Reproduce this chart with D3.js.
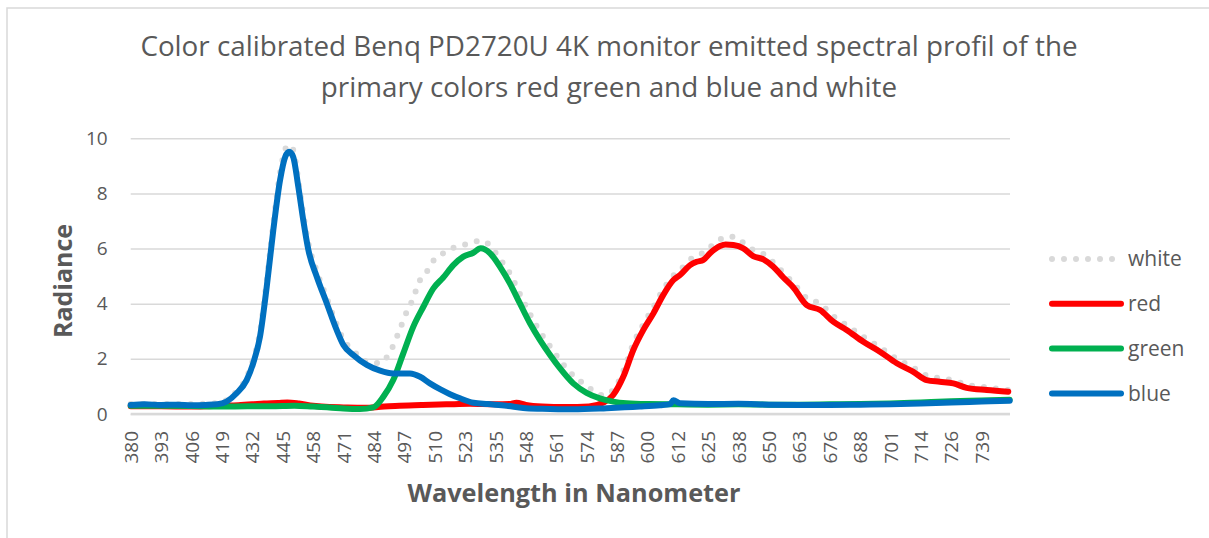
<!DOCTYPE html>
<html>
<head>
<meta charset="utf-8">
<script src="https://cdn.jsdelivr.net/npm/d3@7"></script>
<style>
  html, body { margin: 0; padding: 0; background: #fff; }
  svg { display: block; font-family: "Open Sans", Lato, sans-serif; }
</style>
</head>
<body>
<div id="chart"></div>
<script>
// Category labels shown on the wavelength axis (nm)
const tickNm = [380, 393, 406, 419, 432, 445, 458, 471, 484, 497, 510, 523, 535, 548,
  561, 574, 587, 600, 612, 625, 638, 650, 663, 676, 688, 701, 714, 726, 739];

const radianceTicks = [0, 2, 4, 6, 8, 10];

// Spectra, [wavelength nm, radiance]
const white = [[380,0.36],[400,0.36],[419,0.4],[421,0.5],[425.3,0.82],[429.6,1.33],[432.4,1.98],
  [435.3,2.98],[438.2,4.85],[441,6.9],[443.9,8.75],[446.1,9.6],[447.8,9.76],[449.5,9.58],[451.7,8.48],
  [453.8,7.27],[456,6.2],[459.6,5.18],[463.9,4.2],[468.1,3.25],[471,2.7],[475.2,2.3],[481,1.9],
  [486.4,1.85],[490.2,2.14],[494.5,2.93],[498.1,3.71],[500.2,4.07],[503.8,4.86],[507.6,5.28],
  [509.4,5.55],[513.7,5.83],[518,6.03],[522.3,6.13],[525.6,6.21],[529.6,6.29],[533.5,6.05],
  [536.2,5.71],[541.2,5.1],[545.5,4.35],[549.8,3.62],[554.1,2.98],[558.4,2.45],[562.6,1.95],
  [568.3,1.4],[574,1.02],[578,0.78],[581.1,0.68],[585.4,0.87],[589.7,1.55],[594,2.55],[598.3,3.25],
  [602.4,3.88],[606.3,4.52],[610.3,5.02],[613,5.22],[617.3,5.6],[620.1,5.75],[623,5.85],[625.8,6.05],
  [630.1,6.33],[633,6.43],[636,6.43],[639.9,6.21],[643.8,5.95],[647.8,5.8],[651.9,5.5],[656.2,5.12],
  [660.4,4.75],[666.2,4.2],[671.9,4.0],[677.4,3.55],[682.7,3.22],[689.4,2.8],[696.5,2.42],[703.7,2.0],
  [710.8,1.68],[716.3,1.4],[721.5,1.3],[726.9,1.22],[732.6,1.06],[741.2,0.97],[750.4,0.87]];

const red = [[380,0.28],[393,0.28],[406,0.27],[419,0.3],[426,0.32],[432,0.35],[437,0.38],[443,0.4],
  [447,0.42],[452,0.38],[458,0.3],[465,0.25],[471,0.24],[480,0.23],[487,0.26],[495,0.3],[505,0.33],
  [515,0.35],[525,0.37],[535,0.35],[541,0.36],[544,0.41],[548,0.33],[555,0.27],[565,0.25],[575,0.27],
  [581.1,0.41],[585.4,0.69],[589.7,1.35],[594,2.32],[598.3,3.05],[602.4,3.65],[606.3,4.32],
  [610.3,4.86],[613,5.04],[617.3,5.4],[620.1,5.52],[623,5.59],[625.8,5.83],[630.1,6.09],[632.5,6.15],
  [635.8,6.13],[639.9,6.01],[643.8,5.73],[647.8,5.61],[651.9,5.34],[656.2,4.95],[660.4,4.6],
  [666.2,3.95],[671.9,3.77],[677.4,3.35],[682.7,3.05],[689.4,2.62],[696.5,2.26],[703.7,1.84],
  [710.8,1.53],[716.3,1.23],[721.5,1.17],[726.9,1.11],[732.6,0.95],[741.2,0.87],[750.4,0.81]];

const green = [[380,0.3],[393,0.3],[406,0.29],[419,0.27],[430,0.28],[440,0.28],[450,0.3],[458,0.27],
  [465,0.24],[471,0.2],[478,0.18],[483.8,0.24],[488.1,0.63],[492.3,1.23],[496.6,2.2],[500.9,3.17],
  [505.2,3.89],[509.4,4.55],[513.7,4.95],[518,5.4],[522.3,5.71],[526.3,5.85],[529.2,6.01],[532.9,5.83],
  [537,5.34],[541.2,4.74],[545.5,4.01],[549.8,3.29],[554.1,2.68],[558.4,2.14],[562.6,1.66],
  [568.3,1.11],[574,0.77],[579.7,0.57],[585.4,0.45],[591.1,0.39],[600,0.36],[612,0.35],[625,0.34],
  [638,0.35],[650,0.34],[663,0.34],[676,0.35],[688,0.36],[701,0.38],[714,0.42],[726,0.46],
  [739,0.49],[751,0.52]];

const blue = [[380,0.33],[386,0.35],[393,0.33],[400,0.34],[406,0.32],[412,0.33],[417,0.35],[421,0.45],
  [425.3,0.75],[429.6,1.23],[432.4,1.84],[435.3,2.8],[438.2,4.62],[441,6.67],[443.9,8.49],
  [446.1,9.33],[447.8,9.51],[449.5,9.33],[451.7,8.24],[453.8,7.04],[456,5.95],[459.6,4.98],
  [463.9,4.01],[468.1,3.05],[471,2.5],[475.2,2.14],[481,1.78],[486.7,1.57],[492.3,1.47],[499.5,1.47],
  [503.8,1.35],[508,1.11],[512.3,0.9],[516.6,0.72],[520.9,0.57],[526.3,0.41],[532,0.36],[539.8,0.3],
  [546.9,0.22],[555,0.19],[568.3,0.17],[582.6,0.21],[596.8,0.27],[605,0.32],[609,0.36],[610.3,0.5],
  [613,0.39],[625,0.36],[638,0.37],[650,0.34],[663,0.33],[676,0.33],[688,0.34],[701,0.35],
  [714,0.38],[726,0.42],[739,0.45],[751,0.48]];

const series = [
  { name: "white", data: white, color: "#d9d9d9", dotted: true },
  { name: "red", data: red, color: "#ff0000" },
  { name: "green", data: green, color: "#00b050" },
  { name: "blue", data: blue, color: "#0070c0" },
];

const width = 1209;
const height = 538;
const plot = { left: 130.7, right: 1010, top: 138.3, bottom: 414 };
const step = 30.39; // pixels between two labelled categories
const textColor = "#595959";
const gridColor = "#d9d9d9";

const svg = d3.select("#chart").append("svg")
  .attr("width", width)
  .attr("height", height);

// Chart area border
svg.append("rect")
  .attr("x", 7).attr("y", 8)
  .attr("width", width + 10).attr("height", height + 10)
  .attr("fill", "#fff")
  .attr("stroke", gridColor)
  .attr("stroke-width", 1.5);

// Category axis: labels are evenly spaced, wavelengths between them are not
const x = d3.scaleLinear()
  .domain(tickNm)
  .range(tickNm.map((d, i) => plot.left + i * step));

const y = d3.scaleLinear()
  .domain([0, 10])
  .range([plot.bottom, plot.top]);

// Horizontal gridlines + radiance labels
const yAxis = svg.append("g")
  .attr("transform", `translate(${plot.left},0)`)
  .call(d3.axisLeft(y)
    .tickValues(radianceTicks)
    .tickSize(-(plot.right - plot.left))
    .tickPadding(23));
yAxis.select(".domain").remove();
yAxis.selectAll(".tick line")
  .attr("stroke", gridColor)
  .attr("stroke-width", 1.5);
yAxis.selectAll(".tick text")
  .attr("fill", textColor)
  .attr("font-family", "'Open Sans', sans-serif")
  .attr("font-size", 19);

// Bottom axis line and rotated wavelength labels
const xAxis = svg.append("g")
  .attr("transform", `translate(0,${plot.bottom})`)
  .call(d3.axisBottom(x).tickValues(tickNm).tickSize(0).tickFormat(d3.format("d")));
xAxis.select(".domain")
  .attr("stroke", gridColor)
  .attr("stroke-width", 2.5)
  .attr("d", `M${plot.left},0H${plot.right}`);
xAxis.selectAll(".tick text")
  .attr("fill", textColor)
  .attr("font-family", "'Open Sans', sans-serif")
  .attr("font-size", 19)
  .attr("text-anchor", "end")
  .attr("transform", "rotate(-90)")
  .attr("x", -17)
  .attr("y", 0)
  .attr("dy", "0.35em");

// Spectral lines
const line = d3.line()
  .x((d) => x(d[0]))
  .y((d) => y(d[1]))
  .curve(d3.curveMonotoneX);

svg.append("g")
  .selectAll("path")
  .data(series)
  .join("path")
  .attr("d", (d) => line(d.data))
  .attr("fill", "none")
  .attr("stroke", (d) => d.color)
  .attr("stroke-width", 6)
  .attr("stroke-linecap", "round")
  .attr("stroke-linejoin", "round")
  .attr("stroke-dasharray", (d) => (d.dotted ? "0 12" : null));

// Title
svg.append("text")
  .attr("text-anchor", "middle")
  .attr("fill", textColor)
  .attr("font-size", 27.8)
  .selectAll("tspan")
  .data([
    "Color calibrated Benq PD2720U 4K monitor emitted spectral profil of the",
    "primary colors red green and blue and white",
  ])
  .join("tspan")
  .attr("x", 609)
  .attr("y", (d, i) => 56 + i * 41)
  .text((d) => d);

// Axis titles
svg.append("text")
  .attr("transform", `translate(72,281) rotate(-90)`)
  .attr("text-anchor", "middle")
  .attr("fill", textColor)
  .attr("font-size", 25)
  .attr("font-weight", "bold")
  .text("Radiance");

svg.append("text")
  .attr("x", 574)
  .attr("y", 502)
  .attr("text-anchor", "middle")
  .attr("fill", textColor)
  .attr("font-size", 25.3)
  .attr("font-weight", "bold")
  .text("Wavelength in Nanometer");

// Legend
const legend = svg.append("g")
  .selectAll("g")
  .data(series)
  .join("g")
  .attr("transform", (d, i) => `translate(1052,${259 + i * 44.8})`);

legend.append("line")
  .attr("x1", 0)
  .attr("x2", 69)
  .attr("stroke", (d) => d.color)
  .attr("stroke-width", 6)
  .attr("stroke-linecap", "round")
  .attr("stroke-dasharray", (d) => (d.dotted ? "0 12" : null));

legend.append("text")
  .attr("x", 76)
  .attr("dy", "0.35em")
  .attr("fill", textColor)
  .attr("font-size", 21)
  .text((d) => d.name);
</script>
</body>
</html>
